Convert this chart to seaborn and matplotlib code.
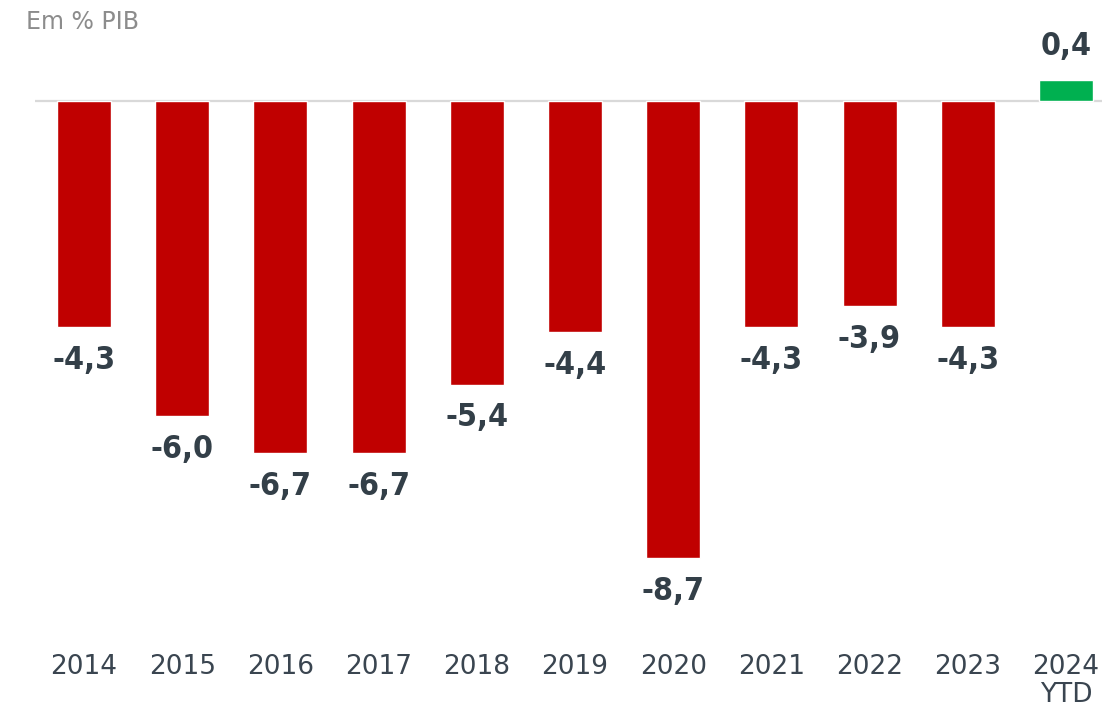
import matplotlib
matplotlib.use("Agg")
import matplotlib.pyplot as plt
import seaborn as sns
import pandas as pd

years = ["2014", "2015", "2016", "2017", "2018", "2019", "2020", "2021", "2022", "2023", "2024\nYTD"]
values = [-4.3, -6.0, -6.7, -6.7, -5.4, -4.4, -8.7, -4.3, -3.9, -4.3, 0.4]
labels = ["-4,3", "-6,0", "-6,7", "-6,7", "-5,4", "-4,4", "-8,7", "-4,3", "-3,9", "-4,3", "0,4"]

sns.set_theme(style="white")
plt.rcParams['font.family'] = ['DejaVu Sans']

df = pd.DataFrame({"ano": years, "valor": values})
df["sinal"] = ["pos" if v > 0 else "neg" for v in values]

fig = plt.figure(figsize=(11.02, 7.14), dpi=100)
ax = fig.add_axes([35/1102, 1 - 640/714, 1 - 35/1102, (640 - 59)/714])

sns.barplot(data=df, x="ano", y="valor", hue="sinal",
            palette={"neg": "#C00000", "pos": "#00B050"},
            width=0.55, dodge=False, legend=False, ax=ax, saturation=1)

top_val = (101 - 59) / 52.5
bot_val = -(640 - 101) / 52.5
ax.set_ylim(bot_val, top_val)
ax.set_xlim(-0.5, 10.5 - (1115 - 1102) / 98.2)

ax.axhline(0, color="#D9D9D9", lw=1.6, zorder=0)

for i, (v, lab) in enumerate(zip(values, labels)):
    off = 24 if v > 0 else -24
    ax.annotate(lab, (i, v), xytext=(0, off), textcoords="offset points",
                ha="center", va="center", fontsize=23, fontweight="bold",
                fontstretch="condensed",
                color="#333F48", family=["DejaVu Sans"])

for s in ax.spines.values():
    s.set_visible(False)
ax.set_yticks([])
ax.set_xlabel("")
ax.set_ylabel("")
ax.tick_params(axis="x", length=0, pad=10, labelsize=19, labelcolor="#3A4550")
for t in ax.get_xticklabels():
    t.set_linespacing(1.1)

fig.text(26/1102, 1 - 22/714, "Em % PIB", fontsize=17, color="#8C8C8C",
         ha="left", va="center")

fig.savefig("out.png", dpi=100)
